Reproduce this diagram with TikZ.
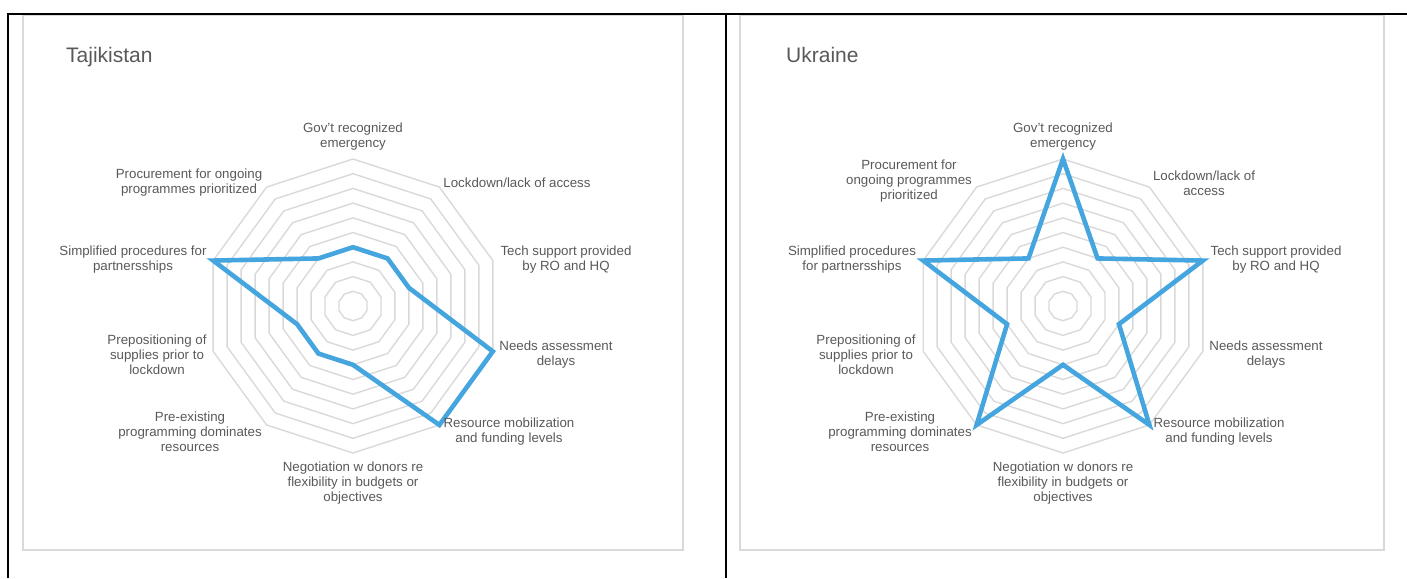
\documentclass[tikz,border=0pt]{standalone}
\usepackage{fontspec}
\setmainfont{Liberation Sans}
\definecolor{txt}{HTML}{595959}
\definecolor{ringc}{HTML}{D9D9D9}
\definecolor{seriec}{RGB}{68,165,223}
\newcommand\apos{\char"0027\relax}
\begin{document}
\begin{tikzpicture}[x=1pt,y=-1pt,
  lbl/.style={font=\fontsize{13.3}{15}\selectfont, text=txt, align=center, inner sep=0pt},
  ttl/.style={font=\fontsize{21}{24}\selectfont, text=txt, inner sep=0pt, anchor=base west},
  ringline/.style={draw=ringc, line width=1.4pt},
  frame/.style={draw=ringc, line width=1.3pt},
  tabline/.style={draw=black, line width=1.6pt},
  serie/.style={draw=seriec, line width=4.6pt, line join=miter}]
\useasboundingbox (0,0) rectangle (1407,578);
% table rules
\coordinate (tl) at (8,14);
\coordinate (tr) at (1407,14);
\coordinate (bl) at (8,578);
\coordinate (mt) at (726,14);
\coordinate (mb) at (726,578);
% chart frames
\draw[frame] (23,15) rectangle (683,550);
\draw[frame] (740,15) rectangle (1384,550);
\draw[tabline] (bl) -- (tl) -- (tr);
\draw[tabline] (mt) -- (mb);
% rings
\foreach \cx in {353,1063} {
  \foreach \i in {1,...,10} {
    \pgfmathsetmacro\r{14.7*\i}
    \draw[ringline] ({\cx},{306-\r}) \foreach \k in {1,...,9} { -- ({\cx+\r*sin(36*\k)},{306-\r*cos(36*\k)}) } -- cycle;
  }
}
% series
\draw[serie] ({353},{306-14.7*4}) \foreach \k/\v in {1/4,2/4,3/10,4/10,5/4,6/4,7/4,8/10,9/4} { -- ({353+14.7*\v*sin(36*\k)},{306-14.7*\v*cos(36*\k)}) } -- cycle;
\draw[serie] ({1063},{306-14.7*10}) \foreach \k/\v in {1/4,2/10,3/4,4/10,5/4,6/10,7/4,8/10,9/4} { -- ({1063+14.7*\v*sin(36*\k)},{306-14.7*\v*cos(36*\k)}) } -- cycle;
% titles
\node[ttl] (ttaj) at (66,63) {Tajikistan};
\node[ttl] (tukr) at (786,63) {Ukraine};
% Tajikistan labels
\node[lbl] (tgov) at (353,137) {Gov\apos t recognized\\emergency};
\node[lbl] (tlock) at (517,182.5) {Lockdown/lack of access};
\node[lbl] (ttech) at (566,260) {Tech support provided\\by RO and HQ};
\node[lbl] (tneed) at (556,355) {Needs assessment\\delays};
\node[lbl] (tres) at (509,432) {Resource mobilization\\and funding levels};
\node[lbl] (tneg) at (353,483.5) {Negotiation w donors re\\flexibility in budgets or\\objectives};
\node[lbl] (tpre) at (190,431.5) {Pre-existing\\programming dominates\\resources};
\node[lbl] (tprep) at (157,354.5) {Prepositioning of\\supplies prior to\\lockdown};
\node[lbl] (tsimp) at (133,260) {Simplified procedures for\\partnersships};
\node[lbl] (tproc) at (189,183) {Procurement for ongoing\\programmes prioritized};
% Ukraine labels
\node[lbl] (ugov) at (1063,137) {Gov\apos t recognized\\emergency};
\node[lbl] (ulock) at (1204,183) {Lockdown/lack of\\access};
\node[lbl] (utech) at (1276,260) {Tech support provided\\by RO and HQ};
\node[lbl] (uneed) at (1266,355) {Needs assessment\\delays};
\node[lbl] (ures) at (1219,432) {Resource mobilization\\and funding levels};
\node[lbl] (uneg) at (1063,483.5) {Negotiation w donors re\\flexibility in budgets or\\objectives};
\node[lbl] (upre) at (900,431.5) {Pre-existing\\programming dominates\\resources};
\node[lbl] (uprep) at (866,354.5) {Prepositioning of\\supplies prior to\\lockdown};
\node[lbl] (usimp) at (852,260) {Simplified procedures\\for partnersships};
\node[lbl] (uproc) at (909,181.5) {Procurement for\\ongoing programmes\\prioritized};
\end{tikzpicture}
\end{document}
